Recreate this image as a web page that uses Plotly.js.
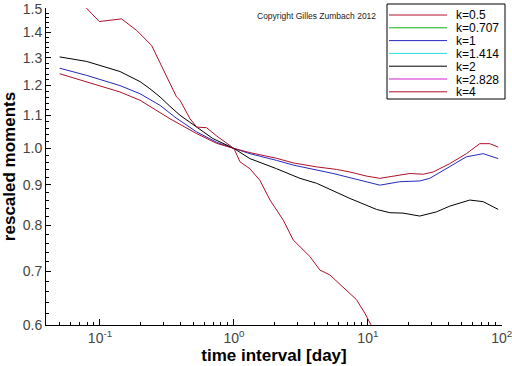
<!DOCTYPE html>
<html>
<head>
<meta charset="utf-8">
<script src="https://cdn.plot.ly/plotly-3.0.1.min.js"></script>
<style>html,body{margin:0;padding:0;background:#fff;}#chart{width:512px;height:366px;}</style>
</head>
<body>
<div id="chart"></div>
<script>
// ---- data ----
var legendNames = ['k=0.5', 'k=0.707', 'k=1', 'k=1.414', 'k=2', 'k=2.828', 'k=4'];
var legendColors = ['#b0102a', '#10b010', '#2828c0', '#20e0e0', '#000000', '#d020d0', '#b0102a'];

var xK05 = [0.05, 0.0796, 0.141, 0.199, 0.281, 0.333, 0.527, 0.743, 1.0, 1.316, 2.08, 2.77, 4.14, 5.83, 7.35, 9.77, 12.3, 14.6, 20.6, 25.9, 30.7, 40.9, 54.4, 68.5, 81.3, 94];
var yK05 = [1.242, 1.214, 1.178, 1.150, 1.111, 1.090, 1.044, 1.015, 1.0, 0.988, 0.972, 0.959, 0.948, 0.941, 0.934, 0.923, 0.917, 0.921, 0.930, 0.928, 0.934, 0.957, 0.985, 1.014, 1.014, 1.004];

var xK1 = [0.05, 0.0796, 0.141, 0.199, 0.281, 0.363, 0.527, 0.743, 1.0, 1.316, 2.08, 2.77, 5.5, 8.7, 12.3, 17.3, 24.4, 29, 40.9, 54.4, 72.6, 94];
var yK1 = [1.262, 1.236, 1.200, 1.172, 1.133, 1.095, 1.049, 1.018, 1.0, 0.985, 0.966, 0.953, 0.930, 0.912, 0.899, 0.908, 0.910, 0.917, 0.948, 0.976, 0.985, 0.971];

var xK2 = [0.05, 0.0796, 0.141, 0.199, 0.236, 0.281, 0.333, 0.396, 0.527, 0.697, 1.0, 1.316, 2.08, 3.11, 4.14, 7.35, 11.6, 14.6, 18.3, 24.4, 32.5, 40.9, 57.7, 72.6, 94];
var yK2 = [1.304, 1.287, 1.250, 1.214, 1.189, 1.161, 1.130, 1.101, 1.064, 1.029, 1.0, 0.971, 0.943, 0.917, 0.904, 0.865, 0.838, 0.830, 0.829, 0.822, 0.832, 0.846, 0.861, 0.857, 0.838];

var xK4 = [0.0782, 0.0988, 0.145, 0.188, 0.243, 0.297, 0.373, 0.396, 0.470, 0.527, 0.625, 0.743, 1.0, 1.11, 1.316, 1.56, 1.86, 2.34, 2.77, 3.69, 4.38, 5.2, 6.93, 8.23, 9.5, 10.7];
var yK4 = [1.506, 1.445, 1.456, 1.408, 1.348, 1.254, 1.161, 1.150, 1.090, 1.064, 1.062, 1.037, 1.0, 0.962, 0.943, 0.912, 0.861, 0.812, 0.767, 0.731, 0.703, 0.693, 0.663, 0.645, 0.620, 0.597];

var xTickVals = [0.1, 1, 10, 100];
var xTickText = ['10<sup>-1</sup>', '10<sup>0</sup>', '10<sup>1</sup>', '10<sup>2</sup>'];
var xMinorVals = [0.05, 0.06, 0.07, 0.08, 0.09, 0.2, 0.3, 0.4, 0.5, 0.6, 0.7, 0.8, 0.9,
                  2, 3, 4, 5, 6, 7, 8, 9, 20, 30, 40, 50, 60, 70, 80, 90];
var yTickVals = [0.6, 0.7, 0.8, 0.9, 1.0, 1.1, 1.2, 1.3, 1.4, 1.5];
var yTickText = ['0.6', '0.7', '0.8', '0.9', '1.0', '1.1', '1.2', '1.3', '1.4', '1.5'];
var yMinorVals = [0.62, 0.64, 0.66, 0.68, 0.72, 0.74, 0.76, 0.78, 0.82, 0.84, 0.86, 0.88,
                  0.92, 0.94, 0.96, 0.98, 1.02, 1.04, 1.06, 1.08, 1.12, 1.14, 1.16, 1.18,
                  1.22, 1.24, 1.26, 1.28, 1.32, 1.34, 1.36, 1.38, 1.42, 1.44, 1.46, 1.48];

// ---- figure ----
var W = 512, H = 366, ML = 46, MR = 10, MT = 8, MB = 41;
var PW = W - ML - MR, PH = H - MT - MB;
function px2x(p) { return (p - ML) / PW; }
function py2y(p) { return (H - MB - p) / PH; }

function tr(x, y, c) {
  return {x: x, y: y, type: 'scatter', mode: 'lines', line: {color: c, width: 1}, showlegend: false, hoverinfo: 'skip'};
}
var data = [
  tr(xK1, yK1, legendColors[2]),
  tr(xK05, yK05, legendColors[0]),
  tr(xK2, yK2, legendColors[4]),
  tr(xK4, yK4, legendColors[6])
];

// manual legend (box, line samples, labels)
var shapes = [{type: 'rect', xref: 'paper', yref: 'paper', x0: px2x(387), x1: px2x(505), y0: py2y(99), y1: py2y(4),
  line: {color: '#000', width: 1}, fillcolor: '#fff', layer: 'above'}];
var annotations = [{xref: 'paper', yref: 'paper', x: px2x(316), y: py2y(16), text: 'Copyright Gilles Zumbach 2012',
  showarrow: false, xanchor: 'center', yanchor: 'middle', font: {family: 'Arial, Liberation Sans', size: 8.5, color: '#222'}}];
for (var i = 0; i < legendNames.length; i++) {
  var yy = 15 + i * 12.8;
  shapes.push({type: 'line', xref: 'paper', yref: 'paper', x0: px2x(389), x1: px2x(447), y0: py2y(yy), y1: py2y(yy),
    line: {color: legendColors[i], width: 1}, layer: 'above'});
  annotations.push({xref: 'paper', yref: 'paper', x: px2x(456), y: py2y(yy), text: legendNames[i], showarrow: false,
    xanchor: 'left', yanchor: 'middle', height: 9, borderpad: 0, borderwidth: 0,
    font: {family: 'Arial, Liberation Sans', size: 12, color: '#000'}});
}

var tickFont = {family: 'Arial, Liberation Sans', size: 14, color: '#444'};
var titleFont = {family: 'Arial, Liberation Sans', size: 17, color: '#000', weight: 'bold'};
var layout = {
  width: W, height: H,
  margin: {l: ML, r: MR, t: MT, b: MB, pad: 0},
  paper_bgcolor: '#fff', plot_bgcolor: '#fff',
  showlegend: false,
  xaxis: {
    type: 'log', range: [-1.403, 2.0015], showgrid: false, zeroline: false,
    showline: true, linecolor: '#000', linewidth: 1,
    tickmode: 'array', tickvals: xTickVals, ticktext: xTickText,
    ticks: 'inside', ticklen: 6, tickcolor: '#000', tickfont: tickFont, ticklabeloverflow: 'allow',
    minor: {tickmode: 'array', tickvals: xMinorVals, ticks: 'inside', ticklen: 3, tickcolor: '#000', showgrid: false},
    title: {text: 'time interval [day]', font: titleFont, standoff: 2}
  },
  yaxis: {
    type: 'log', range: [Math.log10(0.6) - 0.0005, Math.log10(1.5) + 0.0008], showgrid: false, zeroline: false,
    showline: true, linecolor: '#000', linewidth: 1,
    tickmode: 'array', tickvals: yTickVals, ticktext: yTickText,
    ticks: 'inside', ticklen: 5, tickcolor: '#000', tickfont: tickFont, ticklabeloverflow: 'allow',
    minor: {tickmode: 'array', tickvals: yMinorVals, ticks: 'inside', ticklen: 3, tickcolor: '#000', showgrid: false},
    title: {text: 'rescaled moments', font: titleFont, standoff: 2}
  },
  shapes: shapes,
  annotations: annotations
};

Plotly.newPlot('chart', data, layout, {staticPlot: true, displayModeBar: false});
</script>
</body>
</html>
